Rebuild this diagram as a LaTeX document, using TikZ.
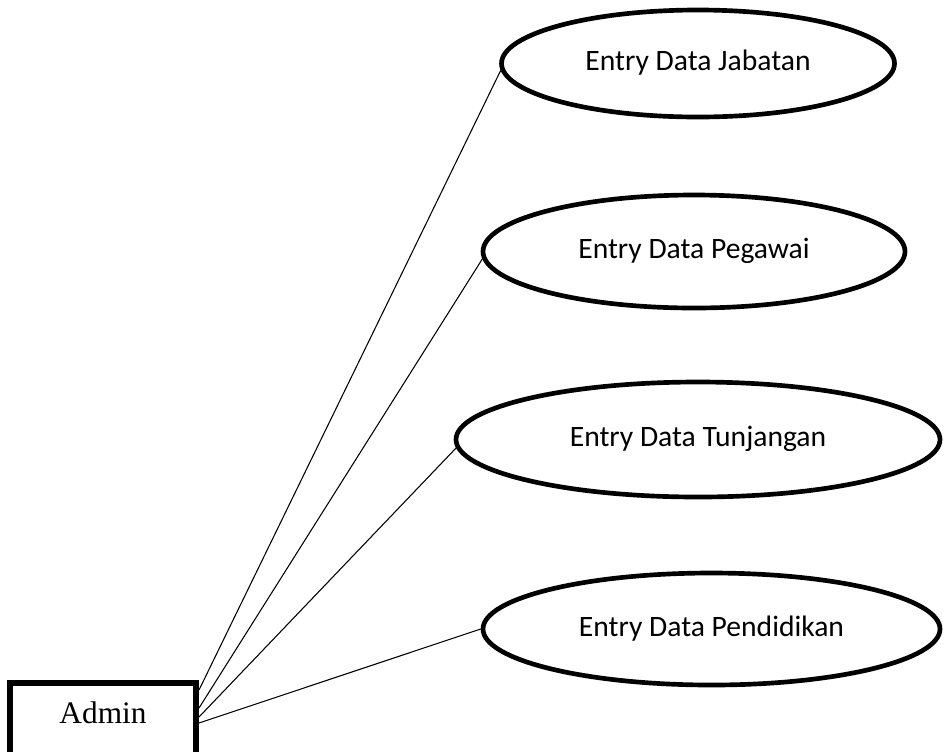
\documentclass[tikz,border=0pt]{standalone}
\usepackage{fontspec}
\newfontfamily\calibrifont{Carlito}
\newfontfamily\timesfont{Liberation Serif}
\usetikzlibrary{shapes}

\begin{document}
\begin{tikzpicture} [x=0.75pt, y=-0.75pt,
    usecase/.style={draw, ellipse, line width=3.5pt, inner sep=0pt, text depth=0.45em,
      font=\calibrifont\fontsize{22.2}{27}\selectfont},
    actor/.style={draw, rectangle, line width=4.5pt,
      font=\timesfont\fontsize{23.5}{28}\selectfont},
    connector/.style={line width=0.8pt}]
    \useasboundingbox (0,0) rectangle (944,751);
    \clip (0,0) rectangle (944,751);

    \node (admin) [actor, anchor=north, minimum width=139.5pt, inner ysep=14.7pt,
      text height=16pt, text depth=15pt] at (103,680) {Admin};

    \node (jabatan) [usecase, minimum width=294.75pt, minimum height=80.25pt]
      at (698,63.5) {Entry Data Jabatan};
    \node (pegawai) [usecase, minimum width=316.5pt, minimum height=84.75pt]
      at (694,251.5) {Entry Data Pegawai};
    \node (tunjangan) [usecase, minimum width=363pt, minimum height=86.25pt]
      at (698,439.5) {Entry Data Tunjangan};
    \node (pendidikan) [usecase, minimum width=342.75pt, minimum height=84pt]
      at (711.5,629) {Entry Data Pendidikan};

    \draw [connector] ([yshift=-7.5pt]admin.north east) -- (jabatan.182);
    \draw [connector] ([yshift=-21pt]admin.north east) -- (pegawai.182);
    \draw [connector] ([yshift=-27.75pt]admin.north east) -- (tunjangan.182);
    \draw [connector] ([yshift=-32.25pt]admin.north east) -- (pendidikan.west);
  \end{tikzpicture}
\end{document}
